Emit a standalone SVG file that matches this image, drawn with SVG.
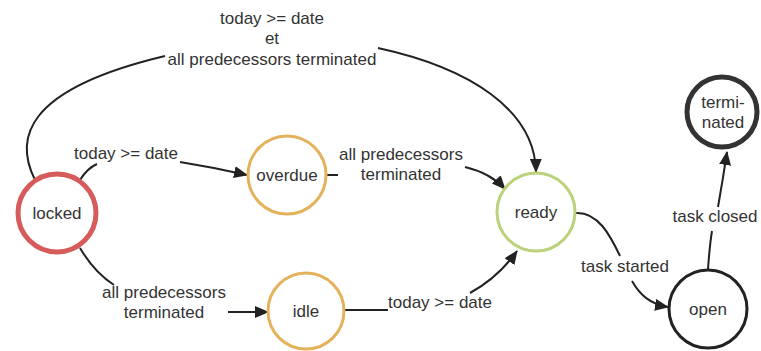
<svg xmlns="http://www.w3.org/2000/svg" width="761" height="351" viewBox="0 0 761 351">
<style>
text{font-family:"Liberation Sans",Arial,sans-serif;font-size:17px;fill:#333;text-anchor:middle}
.c{fill:none;stroke:#222;stroke-width:2}
.a{marker-end:url(#arr)}
.n{fill:#fff}
</style>
<defs>
<marker id="arr" markerUnits="userSpaceOnUse" markerWidth="14" markerHeight="12" refX="13" refY="6" orient="auto">
<path d="M0,0 L14,6 L0,12 z" fill="#222"/>
</marker>
</defs>
<rect width="761" height="351" fill="#fff"/>
<g id="connectors">
<path class="c" d="M35,180 C15,140 22,90 165,56"/>
<path class="c a" d="M378,48 C470,68 535,110 536,172"/>
<path class="c" d="M80,180 C85,172 90,167 97,164"/>
<path class="c a" d="M180,162 C205,166 225,170 247,175"/>
<path class="c" d="M327,175 L338,175"/>
<path class="c a" d="M465,167 C482,171 495,178 505,189"/>
<path class="c" d="M80,248 C90,265 100,276 114,285"/>
<path class="c a" d="M228,312 L268,312"/>
<path class="c" d="M345,310 L388,310"/>
<path class="c a" d="M470,293 C490,282 505,268 517,251"/>
<path class="c" d="M576,213 C598,212 610,235 620,256"/>
<path class="c a" d="M632,281 C640,295 650,304 668,307"/>
<path class="c" d="M708,269 C709,255 710,243 712,231"/>
<path class="c a" d="M718,207 C721,190 724,172 727,152"/>
</g>
<g id="labels">
<text x="272" y="24">today &gt;= date</text>
<text x="272" y="44">et</text>
<text x="272" y="65">all predecessors terminated</text>
<text x="126" y="159">today &gt;= date</text>
<text x="401" y="160">all predecessors</text>
<text x="401" y="180">terminated</text>
<text x="164" y="298">all predecessors</text>
<text x="164" y="318">terminated</text>
<text x="440" y="308">today &gt;= date</text>
<text x="625" y="272">task started</text>
<text x="715" y="222">task closed</text>
</g>
<g id="locked">
<circle class="n" cx="57" cy="213" r="39" stroke="#d65c5c" stroke-width="5"/>
<text x="57" y="219">locked</text>
</g>
<g id="overdue">
<circle class="n" cx="287" cy="175" r="39" stroke="#e3b25a" stroke-width="3"/>
<text x="287" y="181">overdue</text>
</g>
<g id="idle">
<circle class="n" cx="306" cy="311" r="38" stroke="#e3b25a" stroke-width="3"/>
<text x="306" y="317">idle</text>
</g>
<g id="ready">
<circle class="n" cx="536" cy="212" r="39" stroke="#bcd27a" stroke-width="3"/>
<text x="536" y="218">ready</text>
</g>
<g id="open">
<circle class="n" cx="708" cy="309" r="39" stroke="#222" stroke-width="3"/>
<text x="708" y="315">open</text>
</g>
<g id="terminated">
<circle class="n" cx="722" cy="112" r="35" stroke="#333" stroke-width="5"/>
<text x="723" y="108">termi-</text>
<text x="723" y="128">nated</text>
</g>
</svg>
